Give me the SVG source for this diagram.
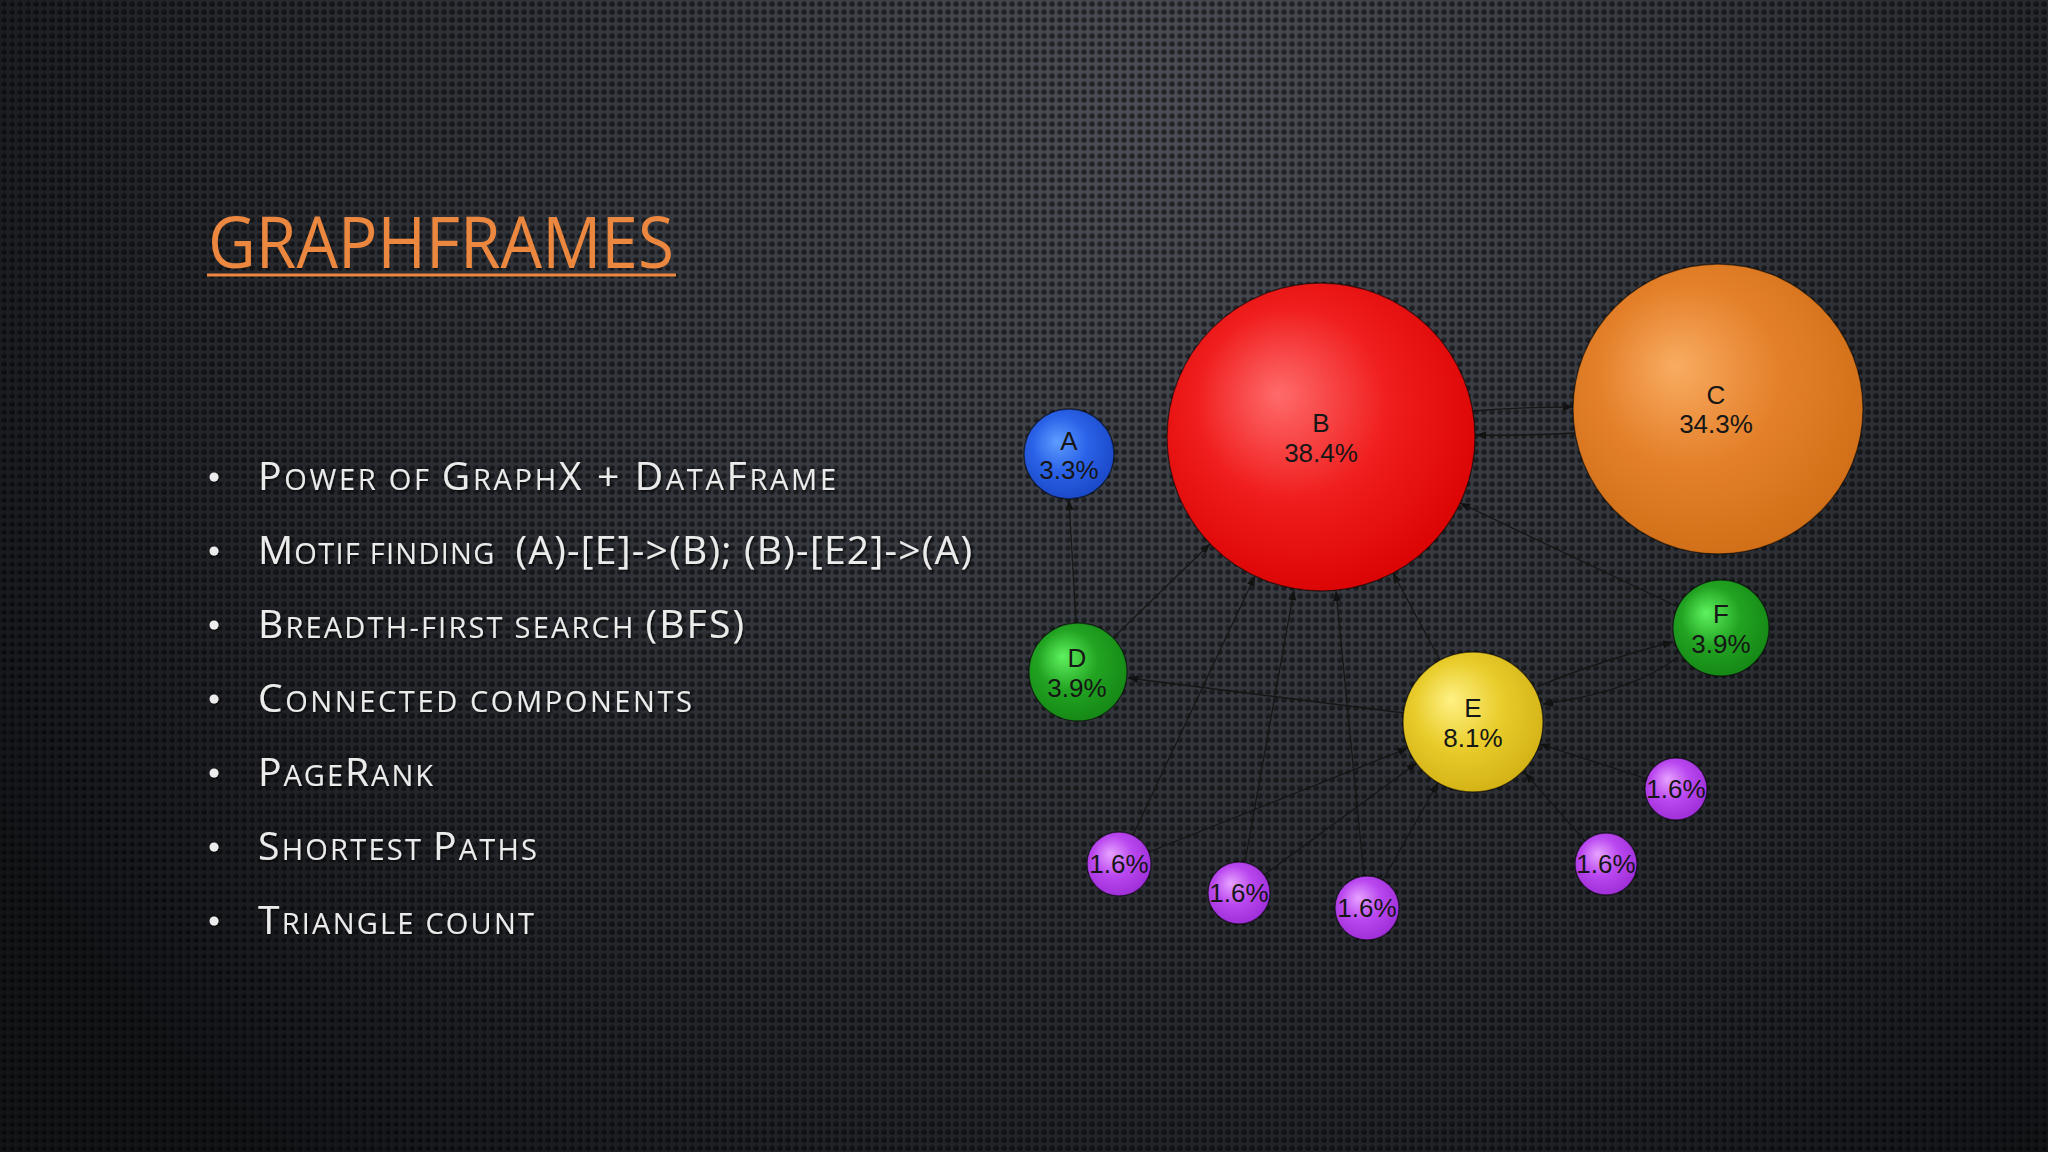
<svg xmlns="http://www.w3.org/2000/svg" width="2048" height="1152" viewBox="0 0 2048 1152">
<defs>
<radialGradient id="bg" gradientUnits="userSpaceOnUse" cx="1150" cy="120" r="1350">
<stop offset="0" stop-color="#4b4e56"/>
<stop offset="0.45" stop-color="#32353b"/>
<stop offset="1" stop-color="#141519"/>
</radialGradient>
<pattern id="dots" width="8" height="8" patternUnits="userSpaceOnUse">
<circle cx="4" cy="4" r="2.7" fill="#000" opacity="0.55"/>
<circle cx="3.1" cy="2.8" r="1" fill="#fff" opacity="0.05"/>
</pattern>
<radialGradient id="gA" cx="0.45" cy="0.42" r="0.62" fx="0.36" fy="0.36">
<stop offset="0" stop-color="#5e9cff"/><stop offset="0.5" stop-color="#2a62e8"/><stop offset="1" stop-color="#1946c4"/>
</radialGradient>
<radialGradient id="gB" cx="0.45" cy="0.42" r="0.62" fx="0.36" fy="0.36">
<stop offset="0" stop-color="#ff6b6b"/><stop offset="0.5" stop-color="#f01e1e"/><stop offset="1" stop-color="#da0202"/>
</radialGradient>
<radialGradient id="gC" cx="0.45" cy="0.42" r="0.62" fx="0.35" fy="0.35">
<stop offset="0" stop-color="#f9ac62"/><stop offset="0.5" stop-color="#e4802a"/><stop offset="1" stop-color="#cf6e16"/>
</radialGradient>
<radialGradient id="gG" cx="0.45" cy="0.42" r="0.62" fx="0.34" fy="0.34">
<stop offset="0" stop-color="#5ef25e"/><stop offset="0.5" stop-color="#22a322"/><stop offset="1" stop-color="#148614"/>
</radialGradient>
<radialGradient id="gE" cx="0.45" cy="0.42" r="0.62" fx="0.34" fy="0.34">
<stop offset="0" stop-color="#fff184"/><stop offset="0.5" stop-color="#e9cd2c"/><stop offset="1" stop-color="#d2b014"/>
</radialGradient>
<radialGradient id="gP" cx="0.45" cy="0.42" r="0.62" fx="0.36" fy="0.34">
<stop offset="0" stop-color="#e6a2ff"/><stop offset="0.5" stop-color="#ba48f0"/><stop offset="1" stop-color="#9c2cd6"/>
</radialGradient>
<marker id="arr" viewBox="0 0 10 8" refX="10" refY="4" markerWidth="11" markerHeight="8" markerUnits="userSpaceOnUse" orient="auto">
<path d="M0,0 L10,4 L0,8 z" fill="#111"/>
</marker>
<filter id="ts" x="-5%" y="-30%" width="110%" height="160%">
<feDropShadow dx="1.5" dy="1.5" stdDeviation="1.2" flood-color="#000" flood-opacity="0.7"/>
</filter>
<style>
.title{font-family:"Open Sans","Lato","Liberation Sans",sans-serif;font-weight:400;font-size:72px;fill:#ec8740}
.bl{font-family:"Open Sans","Lato","Liberation Sans",sans-serif;font-weight:400;fill:#ebebeb;filter:url(#ts)}
.big{font-size:39px}
.sm{font-size:29px}
.node circle{stroke:#000;stroke-opacity:0.55;stroke-width:1.3}
.lbl{font-family:"Liberation Sans",Arial,sans-serif;font-size:26px;fill:#161616;text-anchor:middle}
.edge path{fill:none;stroke:#141414;stroke-opacity:0.9;stroke-width:1.3;marker-end:url(#arr)}
</style>
</defs>
<rect width="2048" height="1152" fill="url(#bg)"/>
<rect width="2048" height="1152" fill="url(#dots)"/>

<g id="title">
<text class="title" x="208" y="268" textLength="466" lengthAdjust="spacingAndGlyphs">GRAPHFRAMES</text>
<line x1="207" y1="275" x2="676" y2="275" stroke="#ec8740" stroke-width="3"/>
</g>

<g id="bullets">
<g fill="#ececec" filter="url(#ts)">
<circle cx="214" cy="477" r="4.5"/>
<circle cx="214" cy="551" r="4.5"/>
<circle cx="214" cy="625" r="4.5"/>
<circle cx="214" cy="699" r="4.5"/>
<circle cx="214" cy="773" r="4.5"/>
<circle cx="214" cy="847" r="4.5"/>
<circle cx="214" cy="921" r="4.5"/>
</g>
<text class="bl" x="258" y="490" textLength="578" lengthAdjust="spacing"><tspan class="big">P</tspan><tspan class="sm">OWER OF </tspan><tspan class="big">G</tspan><tspan class="sm">RAPH</tspan><tspan class="big">X + D</tspan><tspan class="sm">ATA</tspan><tspan class="big">F</tspan><tspan class="sm">RAME</tspan></text>
<text class="bl" x="258" y="564" textLength="714" lengthAdjust="spacing"><tspan class="big">M</tspan><tspan class="sm">OTIF FINDING</tspan><tspan class="big" dx="20">(A)-[E]-&gt;(B); (B)-[E2]-&gt;(A)</tspan></text>
<text class="bl" x="258" y="638" textLength="486" lengthAdjust="spacing"><tspan class="big">B</tspan><tspan class="sm">READTH-FIRST SEARCH </tspan><tspan class="big">(BFS)</tspan></text>
<text class="bl" x="258" y="712" textLength="434" lengthAdjust="spacing"><tspan class="big">C</tspan><tspan class="sm">ONNECTED COMPONENTS</tspan></text>
<text class="bl" x="258" y="786" textLength="175" lengthAdjust="spacing"><tspan class="big">P</tspan><tspan class="sm">AGE</tspan><tspan class="big">R</tspan><tspan class="sm">ANK</tspan></text>
<text class="bl" x="258" y="860" textLength="279" lengthAdjust="spacing"><tspan class="big">S</tspan><tspan class="sm">HORTEST </tspan><tspan class="big">P</tspan><tspan class="sm">ATHS</tspan></text>
<text class="bl" x="258" y="934" textLength="276" lengthAdjust="spacing"><tspan class="big">T</tspan><tspan class="sm">RIANGLE COUNT</tspan></text>
</g>

<g id="edges" class="edge">
<path d="M1076,623 L1069,500"/>
<path d="M1113,638 L1210,544"/>
<path d="M1133,835 L1255,576"/>
<path d="M1245,862 L1294,590"/>
<path d="M1364,876 L1336,591"/>
<path d="M1440,660 L1393,573"/>
<path d="M1678,607 L1460,503"/>
<path d="M1404,713 L1128,678"/>
<path d="M1149,852 L1408,748"/>
<path d="M1264,875 L1417,763"/>
<path d="M1383,880 L1438,783"/>
<path d="M1647,779 L1540,744"/>
<path d="M1585,841 L1525,773"/>
<path d="M1473,411 Q1520,407 1573,407"/>
<path d="M1575,433 Q1525,436 1476,435"/>
<path d="M1537,687 Q1598,661 1673,642"/>
<path d="M1678,657 Q1632,692 1543,704"/>
</g>

<g id="node-A" class="node"><circle cx="1069" cy="454" r="45" fill="url(#gA)"/><text class="lbl" x="1069" y="450">A</text><text class="lbl" x="1069" y="479">3.3%</text></g>
<g id="node-B" class="node"><circle cx="1321" cy="437" r="154" fill="url(#gB)"/><text class="lbl" x="1321" y="432">B</text><text class="lbl" x="1321" y="462">38.4%</text></g>
<g id="node-C" class="node"><circle cx="1718" cy="409" r="145" fill="url(#gC)"/><text class="lbl" x="1716" y="404">C</text><text class="lbl" x="1716" y="433">34.3%</text></g>
<g id="node-D" class="node"><circle cx="1078" cy="672" r="49" fill="url(#gG)"/><text class="lbl" x="1077" y="667">D</text><text class="lbl" x="1077" y="697">3.9%</text></g>
<g id="node-E" class="node"><circle cx="1473" cy="722" r="70" fill="url(#gE)"/><text class="lbl" x="1473" y="717">E</text><text class="lbl" x="1473" y="747">8.1%</text></g>
<g id="node-F" class="node"><circle cx="1721" cy="628" r="48" fill="url(#gG)"/><text class="lbl" x="1721" y="623">F</text><text class="lbl" x="1721" y="653">3.9%</text></g>
<g id="node-P1" class="node"><circle cx="1676" cy="789" r="31" fill="url(#gP)"/><text class="lbl" x="1676" y="798">1.6%</text></g>
<g id="node-P2" class="node"><circle cx="1606" cy="864" r="31" fill="url(#gP)"/><text class="lbl" x="1606" y="873">1.6%</text></g>
<g id="node-P3" class="node"><circle cx="1119" cy="864" r="32" fill="url(#gP)"/><text class="lbl" x="1119" y="873">1.6%</text></g>
<g id="node-P4" class="node"><circle cx="1239" cy="893" r="31" fill="url(#gP)"/><text class="lbl" x="1239" y="902">1.6%</text></g>
<g id="node-P5" class="node"><circle cx="1367" cy="908" r="32" fill="url(#gP)"/><text class="lbl" x="1367" y="917">1.6%</text></g>
</svg>
